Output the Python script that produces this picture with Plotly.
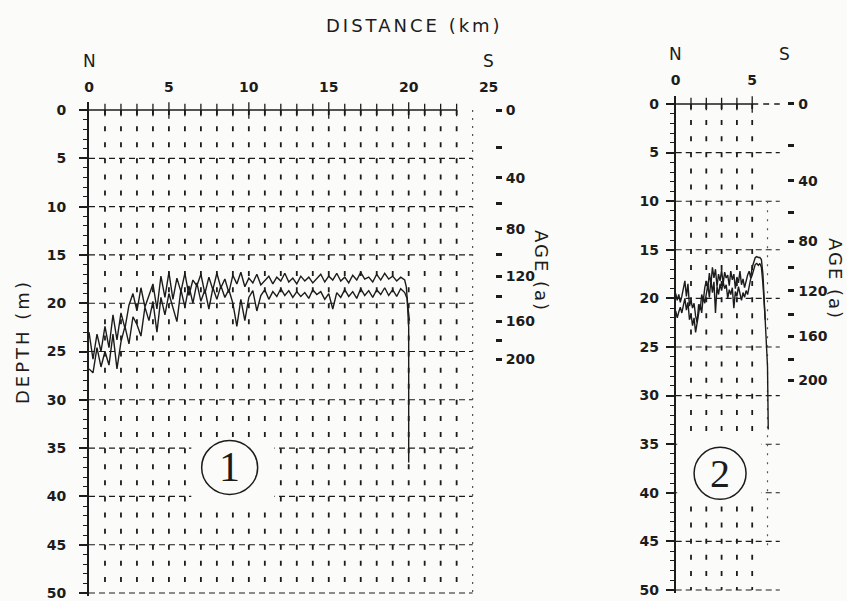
import plotly.graph_objects as go

# ---------------- data ----------------
# Panel 1 : two depth profiles (m) along distance (km)
dist1 = [0.0, 0.25, 0.5, 0.75, 1.0, 1.25, 1.5, 1.75, 2.0, 2.25,
         2.5, 2.75, 3.0, 3.25, 3.5, 3.75, 4.0, 4.25, 4.5, 4.75,
         5.0, 5.25, 5.5, 5.75, 6.0, 6.25, 6.5, 6.75, 7.0, 7.25,
         7.5, 7.75, 8.0, 8.25, 8.5, 8.75, 9.0, 9.25, 9.5, 9.75,
         10.0, 10.25, 10.5, 10.75, 11.0, 11.25, 11.5, 11.75, 12.0, 12.25,
         12.5, 12.75, 13.0, 13.25, 13.5, 13.75, 14.0, 14.25, 14.5, 14.75,
         15.0, 15.25, 15.5, 15.75, 16.0, 16.25, 16.5, 16.75, 17.0, 17.25,
         17.5, 17.75, 18.0, 18.25, 18.5, 18.75, 19.0, 19.25, 19.5, 19.75]
upper1 = [23.0, 25.8, 23.2, 25.0, 22.4, 24.6, 21.2, 23.8, 21.0, 22.6,
          20.2, 19.0, 20.8, 18.4, 20.4, 19.2, 18.0, 20.6, 17.2, 19.4,
          16.8, 19.6, 17.4, 18.8, 16.9, 19.2, 17.6, 18.2, 17.0, 19.0,
          17.3, 18.6, 16.9, 18.4, 17.5, 18.9, 17.1, 18.0, 16.8, 18.3,
          17.4, 17.9, 17.0, 18.1, 17.6, 17.2, 18.0, 17.3, 17.7, 16.9,
          17.8, 17.4, 18.0, 17.2, 17.7, 17.3, 17.9, 17.5, 17.0, 17.8,
          17.2, 17.6, 16.9, 17.7, 17.3, 17.9, 17.1, 17.6, 16.8, 17.5,
          17.3, 17.8, 17.0, 17.6, 16.9, 17.5, 17.2, 17.7, 17.3, 17.6]
lower1 = [26.8, 27.2, 24.6, 26.6, 25.0, 26.4, 23.2, 26.8, 24.0, 22.4,
          24.2, 21.4, 22.2, 23.4, 20.4, 21.8, 19.8, 23.0, 19.4, 21.2,
          19.0, 20.6, 21.9, 18.6, 20.4, 18.2, 20.0, 17.9, 19.8, 18.6,
          20.6, 18.4, 19.6, 18.2, 19.4, 18.6, 20.0, 22.4, 19.6, 21.8,
          19.4, 18.7, 20.8, 19.2, 18.6, 19.6, 18.8, 19.3, 18.5, 19.2,
          18.7, 19.4, 18.8, 19.3, 18.9, 19.5, 18.6, 19.1, 18.8, 19.6,
          19.0, 20.6, 18.9, 19.4, 18.6, 19.3, 18.8, 19.5, 18.5, 19.2,
          18.7, 19.4, 18.6, 19.1, 18.4, 19.2, 18.6, 19.3, 18.5, 18.9]
upper1_end_dist = [19.85, 19.95, 20.05]
upper1_end_depth = [18.3, 20.4, 21.8]
lower1_end_dist = [19.9, 20.0, 20.0]
lower1_end_depth = [19.5, 22.5, 36.5]

# Panel 2
dist2 = [0.0, 0.1, 0.2, 0.3, 0.4, 0.5, 0.6, 0.7, 0.8, 0.9,
         1.0, 1.1, 1.2, 1.3, 1.4, 1.5, 1.6, 1.7, 1.8, 1.9,
         2.0, 2.1, 2.2, 2.3, 2.4, 2.5, 2.6, 2.7, 2.8, 2.9,
         3.0, 3.1, 3.2, 3.3, 3.4, 3.5, 3.6, 3.7, 3.8, 3.9,
         4.0, 4.1, 4.2, 4.3, 4.4, 4.5, 4.6, 4.7, 4.8, 4.9,
         5.0, 5.1, 5.2, 5.3, 5.4, 5.5, 5.6, 5.7, 5.8]
upper2 = [19.5, 20.2, 19.6, 20.4, 19.8, 19.0, 18.2, 19.8, 18.5, 20.8,
          20.2, 21.0, 20.5, 21.8, 22.5, 20.6, 21.2, 19.6, 20.3, 18.9,
          18.2, 19.0, 17.4, 18.6, 16.8, 17.9, 17.0, 18.8, 17.5, 18.2,
          17.1, 18.5, 17.3, 17.9, 17.6, 18.7, 17.2, 18.1, 17.5, 19.0,
          17.8, 18.4, 17.2, 18.6, 18.0, 18.9, 18.2, 17.6, 17.2, 17.9,
          16.8, 16.3, 15.8, 15.7, 15.8, 15.8, 16.0, 17.5, 20.5]
lower2 = [21.3, 22.0, 21.4, 20.9, 21.5, 20.6, 20.0, 21.2, 20.4, 22.2,
          21.6, 22.8, 22.0, 23.5, 22.4, 21.2, 20.6, 21.5, 19.8, 20.5,
          19.5, 18.6, 19.9, 18.1, 19.4, 18.3, 21.5, 18.8, 19.6, 18.5,
          19.2, 18.3, 19.0, 18.6, 20.0, 19.1, 19.6, 18.9, 21.0, 19.3,
          19.8, 18.8, 19.5, 20.2, 19.4, 19.9, 19.2, 19.6, 18.8, 18.0,
          17.6, 17.0, 16.5, 16.4, 16.6, 16.4, 16.8, 18.5, 21.0]
upper2_end_dist = [5.85, 5.9, 6.0, 6.05]
upper2_end_depth = [22.0, 24.5, 27.0, 33.5]
lower2_end_dist = [5.85]
lower2_end_depth = [22.2]

# Axis ticks
dist1_ticks = [0, 5, 10, 15, 20, 25]
dist2_ticks = [0, 5]
depth_ticks = [0, 5, 10, 15, 20, 25, 30, 35, 40, 45, 50]
age_labels = ["0", "", "40", "", "80", "", "120", "", "160", "", "200"]
age1_depth = [0, 3.9, 7.0, 9.7, 12.3, 15.0, 17.2, 19.3, 21.9, 23.9, 25.8]
age2_depth = [0, 4.3, 7.9, 11.2, 14.1, 16.8, 19.2, 21.7, 23.9, 26.3, 28.4]

# ---------------- figure ----------------
W, H = 847, 601
INK = "#1c1c1c"
FONT = "DejaVu Sans"
BG = "#fbfbf9"

fig = go.Figure()
line_style = dict(color=INK, width=1.4)
fig.add_trace(go.Scatter(x=dist1 + upper1_end_dist, y=upper1 + upper1_end_depth,
                         mode="lines", line=line_style, xaxis="x", yaxis="y", showlegend=False))
fig.add_trace(go.Scatter(x=dist1 + lower1_end_dist, y=lower1 + lower1_end_depth,
                         mode="lines", line=line_style, xaxis="x", yaxis="y", showlegend=False))
fig.add_trace(go.Scatter(x=dist2 + upper2_end_dist, y=upper2 + upper2_end_depth,
                         mode="lines", line=line_style, xaxis="x2", yaxis="y3", showlegend=False))
fig.add_trace(go.Scatter(x=dist2 + lower2_end_dist, y=lower2 + lower2_end_depth,
                         mode="lines", line=line_style, xaxis="x2", yaxis="y3", showlegend=False))
# placeholders so the age axes are drawn
fig.add_trace(go.Scatter(x=[None], y=[None], xaxis="x", yaxis="y2", showlegend=False))
fig.add_trace(go.Scatter(x=[None], y=[None], xaxis="x2", yaxis="y4", showlegend=False))

shapes = []
VDASH = "5px,11.1px"
HDASH = "6px,4px"


def grid(xr, yr, nkm, hx_end, solid_end):
    for k in range(1, nkm + 1):
        shapes.append(dict(type="line", xref=xr, yref=yr, x0=k, x1=k, y0=0, y1=50,
                           line=dict(color=INK, width=1.8, dash=VDASH), layer="below"))
    for d in depth_ticks[1:]:
        shapes.append(dict(type="line", xref=xr, yref=yr, x0=0, x1=hx_end, y0=d, y1=d,
                           line=dict(color=INK, width=1.1, dash=HDASH), layer="below"))
    shapes.append(dict(type="line", xref=xr, yref=yr, x0=0, x1=solid_end, y0=0, y1=0,
                       line=dict(color=INK, width=1.5), layer="below"))
    for k in range(1, solid_end + 1):
        h = 0.9 if k % 5 == 0 else 0.65
        shapes.append(dict(type="line", xref=xr, yref=yr, x0=k, x1=k, y0=-h, y1=h,
                           line=dict(color=INK, width=1.3), layer="below"))


# panel 1
grid("x", "y", 23, 24, 23)
shapes.append(dict(type="line", xref="x", yref="y", x0=24, x1=24, y0=0, y1=50,
                   line=dict(color="#555", width=1.2, dash="2px,6px"), layer="below"))
shapes.append(dict(type="rect", xref="x", yref="y", x0=6.4, x1=11.6, y0=34.2, y1=40.8,
                   fillcolor=BG, line=dict(width=0), layer="below"))
# panel 2
grid("x2", "y3", 5, 6.8, 5)
shapes.append(dict(type="line", xref="x2", yref="y3", x0=5, x1=6.8, y0=0, y1=0,
                   line=dict(color=INK, width=1.3, dash="6px,5px"), layer="below"))
shapes.append(dict(type="line", xref="x2", yref="y3", x0=6, x1=6, y0=10, y1=46,
                   line=dict(color="#555", width=1.2, dash="2px,7px"), layer="below"))
shapes.append(dict(type="rect", xref="x2", yref="y3", x0=0.1, x1=5.6, y0=33.8, y1=40.6,
                   fillcolor=BG, line=dict(width=0), layer="below"))

# circled panel numbers
shapes.append(dict(type="circle", xref="x", yref="y", xsizemode="pixel", ysizemode="pixel",
                   xanchor=8.8, yanchor=37.0, x0=-28, x1=28, y0=-27, y1=27,
                   line=dict(color=INK, width=1.5)))
shapes.append(dict(type="circle", xref="x2", yref="y3", xsizemode="pixel", ysizemode="pixel",
                   xanchor=2.9, yanchor=38.0, x0=-26, x1=26, y0=-26, y1=26,
                   line=dict(color=INK, width=1.5)))


def note(text, x, y, xref="paper", yref="paper", size=18, angle=0, family=FONT):
    return dict(text=text, x=x, y=y, xref=xref, yref=yref, showarrow=False,
                xanchor="center", yanchor="middle", textangle=angle,
                font=dict(family=family, size=size, color=INK))


annotations = [
    note("1", 8.8, 37.0, "x", "y", size=42, family="Liberation Serif"),
    note("2", 2.9, 38.0, "x2", "y3", size=40, family="Liberation Serif"),
    note('<span style="letter-spacing:3px">DISTANCE (km)</span>', 414 / W, 1 - 26 / H, size=18),
    note('<span style="letter-spacing:3px">DEPTH (m)</span>', 22 / W, 1 - 342 / H, size=18, angle=-90),
    note('<span style="letter-spacing:2px">AGE (a)</span>', 542 / W, 1 - 271 / H, size=18, angle=90),
    note('<span style="letter-spacing:2px">AGE (a)</span>', 836 / W, 1 - 279 / H, size=18, angle=90),
    note("N", 0, 1 - 61 / H, "x", "paper", size=17),
    note("S", 25, 1 - 61 / H, "x", "paper", size=17),
    note("N", 0, 1 - 54 / H, "x2", "paper", size=17),
    note("S", 7.1, 1 - 54 / H, "x2", "paper", size=17),
]

tickfont = dict(family=FONT, size=14, color=INK, weight="bold")
yrange = [50.3, -0.8]


def depth_axis(domain, anchor, standoff):
    return dict(domain=domain, anchor=anchor, range=yrange, tickvals=depth_ticks,
                ticks="outside", ticklen=8, tickwidth=1.5, tickcolor=INK,
                minor=dict(dtick=1, tick0=0, ticks="outside", ticklen=4, tickwidth=1, tickcolor=INK),
                showline=True, linewidth=1.8, linecolor=INK, showgrid=False, zeroline=False,
                tickfont=tickfont, ticklabelstandoff=standoff, automargin=False)


def age_axis(over, anchor, vals):
    return dict(overlaying=over, anchor=anchor, side="right", range=yrange,
                tickvals=vals, ticktext=age_labels, ticks="outside", ticklen=6,
                tickwidth=2.6, tickcolor=INK, showline=False, showgrid=False,
                zeroline=False, tickfont=tickfont, ticklabelstandoff=1, automargin=False)


def dist_axis(domain, anchor, rng, vals):
    return dict(domain=domain, anchor=anchor, range=rng, side="top", tickvals=vals,
                ticks="", showline=False, showgrid=False, zeroline=False,
                tickfont=tickfont, ticklabelstandoff=7, automargin=False)


fig.update_layout(
    width=W, height=H, margin=dict(l=0, r=0, t=0, b=0, pad=0),
    paper_bgcolor=BG, plot_bgcolor=BG,
    xaxis=dist_axis([89 / W, 495 / W], "y", [0, 25.4], dist1_ticks),
    yaxis=depth_axis([1 - 595.9 / H, 1 - 102.3 / H], "x", 10),
    yaxis2=age_axis("y", "x", age1_depth),
    xaxis2=dist_axis([675.7 / W, 787.4 / W], "y3", [0, 7.3], dist2_ticks),
    yaxis3=depth_axis([1 - 592.9 / H, 1 - 96.2 / H], "x2", 4),
    yaxis4=age_axis("y3", "x2", age2_depth),
    shapes=shapes, annotations=annotations, showlegend=False,
)

# remove the browser's default 8px page margin so the figure fills the window exactly
fig.write_html("out.html", config={"displayModeBar": False},
               post_script="document.body.style.margin='0px';")
